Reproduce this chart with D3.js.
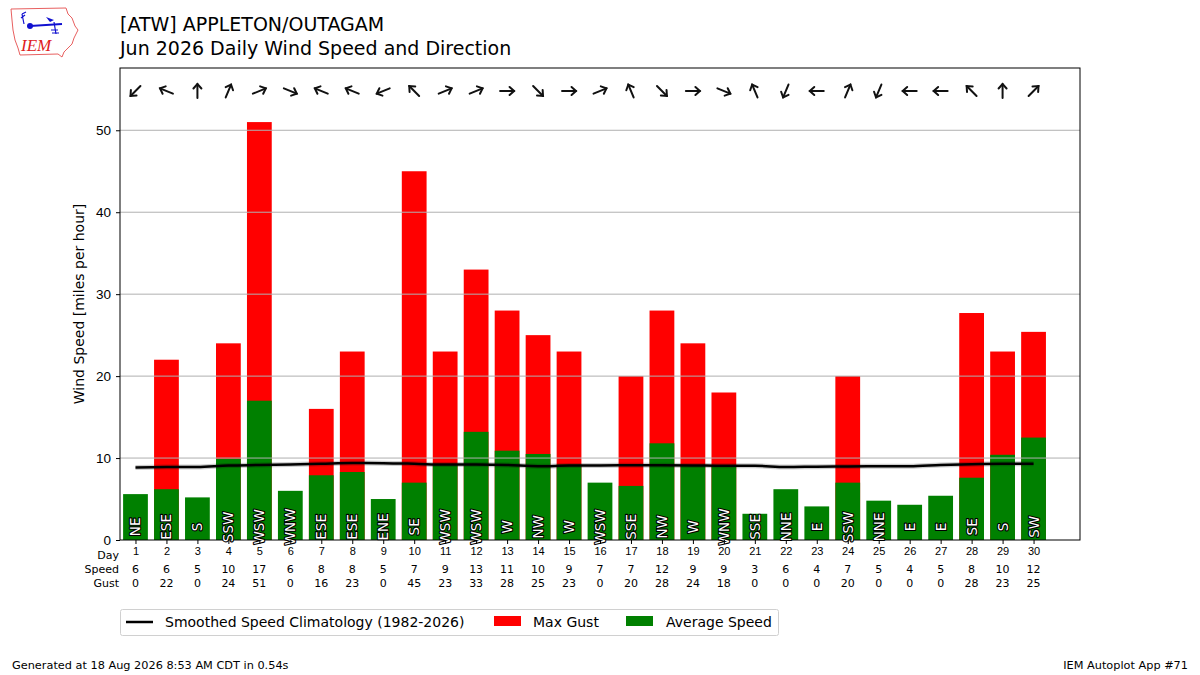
<!DOCTYPE html>
<html>
<head>
<meta charset="utf-8">
<script src="https://cdn.jsdelivr.net/npm/d3@7/dist/d3.min.js"></script>
<style>
  body { margin: 0; background: #fff; }
  svg { font-family: "DejaVu Sans", sans-serif; }
</style>
</head>
<body>
<div id="chart"></div>
<script>
// daily values
var days = d3.range(1, 31);
var avgSpeed = [5.6, 6.2, 5.2, 9.9, 17.0, 6.0, 7.9, 8.3, 5.0, 7.0,
                9.2, 13.2, 10.9, 10.5, 9.2, 7.0, 6.6, 11.8, 9.1, 9.1,
                3.2, 6.2, 4.1, 7.0, 4.8, 4.3, 5.4, 7.6, 10.4, 12.5];
var maxGust = [0, 22, 0, 24, 51, 0, 16, 23, 0, 45,
               23, 33, 28, 25, 23, 0, 20, 28, 24, 18,
               0, 0, 0, 20, 0, 0, 0, 27.7, 23, 25.4];
var speedLabel = [6, 6, 5, 10, 17, 6, 8, 8, 5, 7, 9, 13, 11, 10, 9,
                  7, 7, 12, 9, 9, 3, 6, 4, 7, 5, 4, 5, 8, 10, 12];
var gustLabel = [0, 22, 0, 24, 51, 0, 16, 23, 0, 45, 23, 33, 28, 25, 23,
                 0, 20, 28, 24, 18, 0, 0, 0, 20, 0, 0, 0, 28, 23, 25];
var direction = ['NE', 'ESE', 'S', 'SSW', 'WSW', 'WNW', 'ESE', 'ESE', 'ENE', 'SE',
                 'WSW', 'WSW', 'W', 'NW', 'W', 'WSW', 'SSE', 'NW', 'W', 'WNW',
                 'SSE', 'NNE', 'E', 'SSW', 'NNE', 'E', 'E', 'SE', 'S', 'SW'];
var climo = [8.85, 8.9, 8.92, 9.1, 9.15, 9.2, 9.3, 9.4, 9.38, 9.3,
             9.2, 9.2, 9.15, 9.0, 9.08, 9.1, 9.12, 9.12, 9.1, 9.05,
             9.05, 8.9, 8.95, 8.98, 9.0, 9.0, 9.15, 9.25, 9.3, 9.3];
var yTicks = [0, 10, 20, 30, 40, 50];

var compass = ['N', 'NNE', 'NE', 'ENE', 'E', 'ESE', 'SE', 'SSE',
               'S', 'SSW', 'SW', 'WSW', 'W', 'WNW', 'NW', 'NNW'];

var W = 1200, H = 675;
var m = {left: 120, right: 1080, top: 68, bottom: 540};

var svg = d3.select('#chart').append('svg')
  .attr('width', W).attr('height', H);

var x = d3.scaleLinear().domain([0.5, 31.5]).range([m.left, m.right]);
var y = d3.scaleLinear().domain([0, 57.6]).range([m.bottom, m.top]);
var bw = (x(1) - x(0)) * 0.8;

// bars
svg.selectAll('.gust').data(days).enter().append('rect')
  .attr('x', function(d) { return x(d) - bw / 2; })
  .attr('y', function(d, i) { return y(maxGust[i]); })
  .attr('width', bw)
  .attr('height', function(d, i) { return y(0) - y(maxGust[i]); })
  .attr('fill', '#ff0000');

svg.selectAll('.avg').data(days).enter().append('rect')
  .attr('x', function(d) { return x(d) - bw / 2; })
  .attr('y', function(d, i) { return y(avgSpeed[i]); })
  .attr('width', bw)
  .attr('height', function(d, i) { return y(0) - y(avgSpeed[i]); })
  .attr('fill', '#008000');

// grid over the bars
svg.selectAll('.grid').data(yTicks.slice(1)).enter().append('line')
  .attr('x1', m.left).attr('x2', m.right)
  .attr('y1', function(d) { return y(d); })
  .attr('y2', function(d) { return y(d); })
  .attr('stroke', '#b0b0b0').attr('stroke-width', 1);

// climatology line
var line = d3.line()
  .x(function(d, i) { return x(days[i]); })
  .y(function(d) { return y(d); })
  .curve(d3.curveMonotoneX);
svg.append('path').datum(climo)
  .attr('d', line).attr('fill', 'none')
  .attr('stroke', '#000').attr('stroke-opacity', 0.2).attr('stroke-width', 5);
svg.append('path').datum(climo)
  .attr('d', line).attr('fill', 'none')
  .attr('stroke', '#000').attr('stroke-width', 2.5);

// axes frame
svg.append('rect')
  .attr('x', m.left).attr('y', m.top)
  .attr('width', m.right - m.left).attr('height', m.bottom - m.top)
  .attr('fill', 'none').attr('stroke', '#000').attr('stroke-width', 1);

// direction labels in the bars
svg.selectAll('.dir').data(days).enter().append('text')
  .attr('transform', function(d) { return 'translate(' + x(d) + ',' + y(1.6) + ')rotate(-90)'; })
  .attr('text-anchor', 'middle')
  .attr('dominant-baseline', 'central')
  .style('font-size', '13.5px')
  .style('paint-order', 'stroke')
  .attr('stroke', '#000').attr('stroke-width', 2.2).attr('stroke-linejoin', 'round')
  .attr('fill', '#fff')
  .text(function(d, i) { return direction[i]; });

// wind arrows, pointing where the wind blows to
var arrowY = 91, half = 7;
var arrows = svg.selectAll('.arrow').data(days).enter().append('g')
  .attr('transform', function(d, i) {
    var deg = compass.indexOf(direction[i]) * 22.5 + 180;
    return 'translate(' + x(d) + ',' + arrowY + ')rotate(' + deg + ')';
  })
  .attr('stroke', '#111').attr('stroke-width', 2).attr('fill', 'none')
  .attr('stroke-linecap', 'round');
arrows.append('line').attr('x1', 0).attr('y1', half).attr('x2', 0).attr('y2', -half);
arrows.append('path').attr('d', 'M-4,' + (-half + 4.5) + 'L0,' + (-half) + 'L4,' + (-half + 4.5));

var yAxis = svg.append('g')
  .attr('transform', 'translate(' + m.left + ',0)')
  .call(d3.axisLeft(y).tickValues(yTicks).tickSize(4).tickPadding(5));
yAxis.select('.domain').remove();
yAxis.selectAll('text').style('font-size', '13.5px').attr('fill', '#000');

var xAxis = svg.append('g')
  .attr('transform', 'translate(0,' + m.bottom + ')')
  .call(d3.axisBottom(x).tickValues(days).tickSize(4).tickPadding(3));
xAxis.select('.domain').remove();
xAxis.selectAll('text').style('font-size', '11px').attr('fill', '#000');

// speed and gust rows under the day labels
var rows = [['Day', days, 555], ['Speed', speedLabel, 569], ['Gust', gustLabel, 583]];
rows.forEach(function(r) {
  svg.append('text').attr('x', 119).attr('y', r[2] + 4)
    .attr('text-anchor', 'end').style('font-size', '11px').text(r[0]);
  if (r[0] === 'Day') return;
  svg.selectAll('.row' + r[0]).data(days).enter().append('text')
    .attr('x', function(d) { return x(d); })
    .attr('y', r[2] + 4)
    .attr('text-anchor', 'middle').style('font-size', '11px')
    .text(function(d, i) { return r[1][i]; });
});

svg.append('text')
  .attr('transform', 'translate(84,' + ((m.top + m.bottom) / 2) + ')rotate(-90)')
  .attr('text-anchor', 'middle').style('font-size', '14px')
  .text('Wind Speed [miles per hour]');

// titles
svg.append('text').attr('x', 120).attr('y', 31).style('font-size', '19px')
  .text('[ATW] APPLETON/OUTAGAM');
svg.append('text').attr('x', 120).attr('y', 55).style('font-size', '19px')
  .text('Jun 2026 Daily Wind Speed and Direction');

// legend
var lg = svg.append('g');
lg.append('rect').attr('x', 120.5).attr('y', 609.5).attr('width', 658).attr('height', 26)
  .attr('rx', 2).attr('fill', '#fff').attr('stroke', '#d0d0d0');
lg.append('line').attr('x1', 126).attr('x2', 153).attr('y1', 622).attr('y2', 622)
  .attr('stroke', '#000').attr('stroke-width', 2.5);
lg.append('text').attr('x', 165).attr('y', 627).style('font-size', '14px')
  .text('Smoothed Speed Climatology (1982-2026)');
lg.append('rect').attr('x', 494).attr('y', 616).attr('width', 27).attr('height', 10).attr('fill', '#ff0000');
lg.append('text').attr('x', 533).attr('y', 627).style('font-size', '14px').text('Max Gust');
lg.append('rect').attr('x', 626).attr('y', 616).attr('width', 27).attr('height', 10).attr('fill', '#008000');
lg.append('text').attr('x', 666).attr('y', 627).style('font-size', '14px').text('Average Speed');

// footer
svg.append('text').attr('x', 12).attr('y', 669).style('font-size', '11.3px')
  .text('Generated at 18 Aug 2026 8:53 AM CDT in 0.54s');
svg.append('text').attr('x', 1188).attr('y', 669).attr('text-anchor', 'end')
  .style('font-size', '11.3px').text('IEM Autoplot App #71');

// IEM logo, roughly
var logo = svg.append('g');
logo.append('path')
  .attr('d', 'M11,9 L66,8 L68,14 L72,18 L75,26 L78,30 L74,38 L72,44 L68,48 L64,52 L62,57 L58,54 L20,55 L18,48 L15,40 L13,30 L12,20 Z')
  .attr('fill', 'none').attr('stroke', '#e86060').attr('stroke-width', 1);
logo.append('line').attr('x1', 30).attr('y1', 26).attr('x2', 62).attr('y2', 24)
  .attr('stroke', '#1010d0').attr('stroke-width', 2);
logo.append('circle').attr('cx', 30).attr('cy', 26).attr('r', 3).attr('fill', '#1010d0');
logo.append('path').attr('d', 'M46,17 L54,20 L50,22 Z').attr('fill', '#1010d0');
logo.append('path').attr('d', 'M54,22 L56,34 M51,30 L58,30 M52,33 L59,33')
  .attr('stroke', '#1010d0').attr('fill', 'none').attr('stroke-width', 1.2);
logo.append('path').attr('d', 'M24,24 L22,14 M21,18 L25,15 M22,14 L26,12')
  .attr('stroke', '#1010d0').attr('fill', 'none').attr('stroke-width', 1.2);
logo.append('text').attr('x', 21).attr('y', 51)
  .style('font-family', '"Liberation Serif", serif').style('font-style', 'italic')
  .style('font-size', '17px').attr('fill', '#e02020').text('IEM');
</script>
</body>
</html>
